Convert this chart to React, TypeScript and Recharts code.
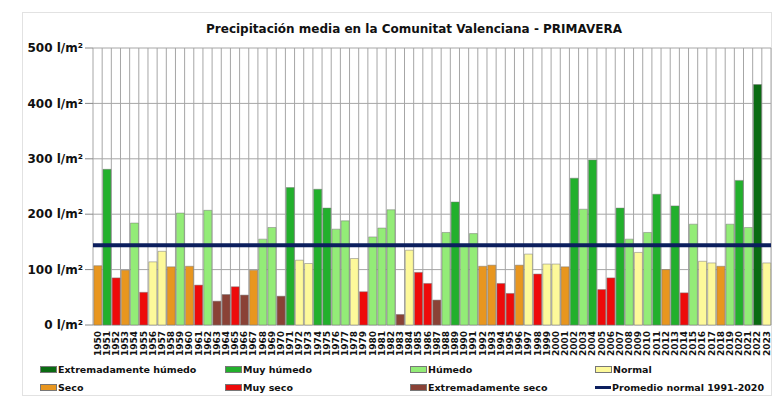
import React from 'react'
import {
  ComposedChart, XAxis, YAxis, Bar, Cell, CartesianGrid, ReferenceLine
} from 'recharts'

// años 1950-2023
const years = [
  1950, 1951, 1952, 1953, 1954, 1955, 1956, 1957, 1958, 1959,
  1960, 1961, 1962, 1963, 1964, 1965, 1966, 1967, 1968, 1969,
  1970, 1971, 1972, 1973, 1974, 1975, 1976, 1977, 1978, 1979,
  1980, 1981, 1982, 1983, 1984, 1985, 1986, 1987, 1988, 1989,
  1990, 1991, 1992, 1993, 1994, 1995, 1996, 1997, 1998, 1999,
  2000, 2001, 2002, 2003, 2004, 2005, 2006, 2007, 2008, 2009,
  2010, 2011, 2012, 2013, 2014, 2015, 2016, 2017, 2018, 2019,
  2020, 2021, 2022, 2023,
]

// precipitación primavera (l/m²)
const precip = [
  107, 281, 85, 99, 184, 59, 114, 133, 105, 202,
  106, 72, 207, 43, 55, 69, 54, 99, 155, 176,
  52, 248, 117, 111, 245, 211, 173, 188, 120, 60,
  159, 175, 208, 19, 135, 95, 75, 45, 167, 222,
  143, 165, 106, 108, 75, 57, 108, 128, 92, 110,
  110, 105, 265, 209, 298, 64, 85, 211, 155, 131,
  167, 236, 100, 215, 58, 182, 115, 112, 106, 182,
  261, 176, 434, 112,
]

// EH = extremadamente húmedo, MH = muy húmedo, H = húmedo, N = normal,
// S = seco, MS = muy seco, ES = extremadamente seco
const caracter = [
  'S', 'MH', 'MS', 'S', 'H', 'MS', 'N', 'N', 'S', 'H',
  'S', 'MS', 'H', 'ES', 'ES', 'MS', 'ES', 'S', 'H', 'H',
  'ES', 'MH', 'N', 'N', 'MH', 'MH', 'H', 'H', 'N', 'MS',
  'H', 'H', 'H', 'ES', 'N', 'MS', 'MS', 'ES', 'H', 'MH',
  'H', 'H', 'S', 'S', 'MS', 'MS', 'S', 'N', 'MS', 'N',
  'N', 'S', 'MH', 'H', 'MH', 'MS', 'MS', 'MH', 'H', 'N',
  'H', 'MH', 'S', 'MH', 'MS', 'H', 'N', 'N', 'S', 'H',
  'MH', 'H', 'EH', 'N',
]

const promedio = 144
const yTicks = [0, 100, 200, 300, 400, 500]

const colores: Record<string, string> = {
  EH: '#0a6b12',
  MH: '#22b02c',
  H: '#93ec77',
  N: '#fdf99a',
  S: '#e8961f',
  MS: '#ee0a0a',
  ES: '#8a4236',
}

const leyenda = [
  { key: 'EH', label: 'Extremadamente húmedo' },
  { key: 'MH', label: 'Muy húmedo' },
  { key: 'H', label: 'Húmedo' },
  { key: 'N', label: 'Normal' },
  { key: 'S', label: 'Seco' },
  { key: 'MS', label: 'Muy seco' },
  { key: 'ES', label: 'Extremadamente seco' },
  { key: 'LINE', label: 'Promedio normal 1991-2020' },
]

const data = years.map((y, i) => ({ year: String(y), valor: precip[i], tipo: caracter[i] }))

const FONT = '"DejaVu Sans", Verdana, sans-serif'
const LINE_COLOR = '#0c1f5e'

const YearTick = (props: any) => {
  const { x, y, payload } = props
  return (
    <text x={x} y={y} dy="0.35em" textAnchor="end" transform={`rotate(-90 ${x} ${y})`}
      fontSize={9} fontWeight="bold" fill="#111" fontFamily={FONT}>
      {payload.value}
    </text>
  )
}

const App: React.FC = () => {
  const n = data.length
  return (
    <div style={{ position: 'absolute', left: 0, top: 0, width: 784, height: 397, background: '#fff', fontFamily: FONT }}>
      <div style={{ position: 'absolute', left: 22, top: 12, width: 748, height: 382, border: '1px solid #e2e2e2' }} />
      <div style={{
        position: 'absolute', left: 0, width: 784, top: 22, textAlign: 'center',
        fontSize: 12, fontWeight: 'bold', color: '#111', paddingLeft: 44, boxSizing: 'border-box'
      }}>
        Precipitación media en la Comunitat Valenciana - PRIMAVERA
      </div>
      <ComposedChart width={784} height={397} data={data} barCategoryGap="9%"
        margin={{ top: 48, right: 13, bottom: 32, left: 8 }} style={{ position: 'absolute', left: 0, top: 0 }}>
        <CartesianGrid stroke="#a6a6a6" strokeWidth={1}
          verticalCoordinatesGenerator={({ offset }: any) =>
            Array.from({ length: n + 1 }, (_, i) => offset.left + (i * offset.width) / n)} />
        <XAxis dataKey="year" interval={0} tick={<YearTick />} tickLine={false} axisLine={false}
          height={40} tickMargin={2} tickSize={4} />
        <YAxis domain={[0, 500]} ticks={yTicks} width={85} tickSize={8} axisLine={false}
          tickLine={{ stroke: '#888' }}
          tickFormatter={(v) => `${v} l/m²`}
          tick={{ fontSize: 12, fontWeight: 'bold', fill: '#111', fontFamily: FONT }} />
        <Bar dataKey="valor" isAnimationActive={false} stroke="#777" strokeWidth={0.5}>
          {data.map((d, i) => <Cell key={i} fill={colores[d.tipo]} />)}
        </Bar>
        <ReferenceLine y={promedio} stroke={LINE_COLOR} strokeWidth={4} />
      </ComposedChart>
      <div style={{ position: 'absolute', left: 40, top: 362, width: 740, display: 'grid', gridTemplateColumns: '185px 185px 185px 185px', rowGap: 4 }}>
        {leyenda.map((l) => (
          <div key={l.key} style={{ display: 'flex', alignItems: 'center', height: 14, fontSize: 9.5, fontWeight: 'bold', color: '#111', whiteSpace: 'nowrap' }}>
            {l.key === 'LINE'
              ? <span style={{ display: 'inline-block', width: 16, height: 3, background: LINE_COLOR, marginRight: 1 }} />
              : <span style={{ display: 'inline-block', width: 15, height: 5, background: colores[l.key], border: '0.5px solid #777', marginRight: 1 }} />}
            {l.label}
          </div>
        ))}
      </div>
    </div>
  )
}

export default App
